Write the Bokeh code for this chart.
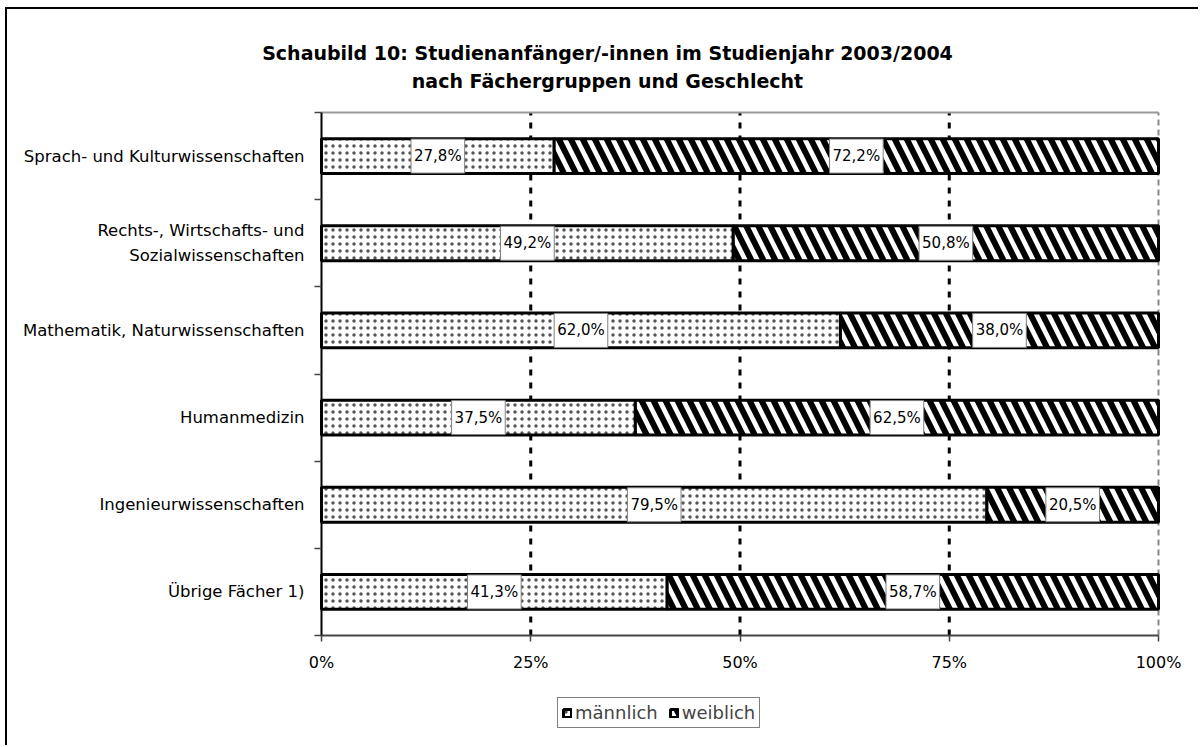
from bokeh.plotting import figure
from bokeh.models import (ColumnDataSource, Range1d, FixedTicker, LinearAxis,
                          Label, Legend, LegendItem)
from bokeh.core.properties import value
from bokeh.embed import file_html
from bokeh.resources import INLINE

# ---------------- data ----------------
categories = [
    "Sprach- und Kulturwissenschaften",
    "Rechts-, Wirtschafts- und\nSozialwissenschaften",
    "Mathematik, Naturwissenschaften",
    "Humanmedizin",
    "Ingenieurwissenschaften",
    "Übrige Fächer 1)",
]
maennlich = [27.8, 49.2, 62.0, 37.5, 79.5, 41.3]
weiblich = [72.2, 50.8, 38.0, 62.5, 20.5, 58.7]
x_ticks = [0, 25, 50, 75, 100]
x_tick_labels = ["0%", "25%", "50%", "75%", "100%"]
grid_ticks = [25, 50, 75]
title_lines = ["Schaubild 10: Studienanfänger/-innen im Studienjahr 2003/2004",
               "nach Fächergruppen und Geschlecht"]
series_names = ["männlich", "weiblich"]

FONT = "DejaVu Sans"
n = len(categories)
ypos = [n - 0.5 - i for i in range(n)]
m_end = maennlich
w_end = [a + b for a, b in zip(maennlich, weiblich)]
x_max = max(w_end)


def fmt(v):
    return f"{v:.1f}%".replace(".", ",")


src = ColumnDataSource(dict(
    y=ypos, m=maennlich, w=weiblich, m_end=m_end, w_end=w_end,
    m_mid=[v / 2 for v in maennlich],
    w_mid=[a + b / 2 for a, b in zip(maennlich, weiblich)],
    m_lab=[fmt(v) for v in maennlich],
    w_lab=[fmt(v) for v in weiblich],
))

# ---------------- layout (pixels) ----------------
W, H = 1193, 738           # canvas size
PL, PW = 314, 837          # plot area left / width  (canvas px)
PT, PH = 103, 523          # plot area top / height  (canvas px)
sx = PW / x_max
sy = PH / n
x_range = Range1d(-PL / sx, (W - PL) / sx)
y_range = Range1d(-(H - PT - PH) / sy, (PT + PH) / sy)

p = figure(width=W, height=H, output_backend="svg", toolbar_location=None, title=None,
           x_range=x_range, y_range=y_range, x_axis_type=None, y_axis_type=None,
           min_border=0, min_border_left=0, min_border_right=0,
           min_border_top=0, min_border_bottom=0)
p.styles = {"margin-left": "5px", "margin-top": "7px",
            "border-left": "2px solid black", "border-top": "2px solid black"}
p.outline_line_color = None
p.background_fill_color = "white"
p.border_fill_color = "white"
p.xgrid.visible = False
p.ygrid.visible = False

# gridlines (dotted at 25/50/75), plot-area top line and right dashed line
p.segment(x0=grid_ticks, x1=grid_ticks, y0=0, y1=n, line_color="black",
          line_width=3, line_dash="6 7")
p.segment(x0=[0], x1=[x_max], y0=n, y1=n, line_color="#999999", line_width=2)
p.segment(x0=[x_max], x1=[x_max], y0=0, y1=n, line_color="#888888",
          line_width=2, line_dash="6 4")

# axes
xaxis = LinearAxis(ticker=FixedTicker(ticks=x_ticks), fixed_location=0, bounds=(0, x_max),
                   major_label_overrides={t: l for t, l in zip(x_ticks, x_tick_labels)})
xaxis.axis_line_color = "#444444"
xaxis.axis_line_width = 2
xaxis.major_tick_in = 0
xaxis.major_tick_out = 6
xaxis.major_tick_line_color = "#444444"
xaxis.major_tick_line_width = 1.5
xaxis.minor_tick_line_color = None
xaxis.major_label_standoff = 11
xaxis.major_label_text_font = FONT
xaxis.major_label_text_font_size = "16px"
xaxis.major_label_text_color = "black"
p.add_layout(xaxis, "below")

yaxis = LinearAxis(ticker=FixedTicker(ticks=ypos, minor_ticks=list(range(n + 1))),
                   fixed_location=0, bounds=(0, n),
                   major_label_overrides={y: c for y, c in zip(ypos, categories)})
yaxis.axis_line_color = "black"
yaxis.axis_line_width = 2
yaxis.major_tick_line_color = None
yaxis.minor_tick_in = 0
yaxis.minor_tick_out = 7
yaxis.minor_tick_line_color = "#444444"
yaxis.minor_tick_line_width = 1.5
yaxis.major_label_standoff = 10
yaxis.major_label_text_font = FONT
yaxis.major_label_text_font_size = "16.5px"
yaxis.major_label_text_color = "black"
yaxis.major_label_text_line_height = 1.33
p.add_layout(yaxis, "left")

# bars
r_m = p.hbar(y="y", left=0, right="m_end", height=0.40, source=src,
             fill_color="white", hatch_pattern="dot", hatch_color="#555555",
             hatch_scale=7, hatch_weight=1.3, line_color="black", line_width=3)
r_w = p.hbar(y="y", left="m_end", right="w_end", height=0.40, source=src,
             fill_color="white", hatch_pattern="left_diagonal_line", hatch_color="black",
             hatch_scale=24, hatch_weight=6, line_color="black", line_width=3)

for col_x, col_t in (("m_mid", "m_lab"), ("w_mid", "w_lab")):
    p.text(x=col_x, y="y", text=col_t, source=src, text_align="center",
           text_baseline="middle", text_font=value(FONT), text_font_size="15px",
           text_color="black", background_fill_color="white",
           border_line_color="#808080", border_line_width=1,
           padding=dict(left=3, right=3, top=8, bottom=8))

# title
for i, line in enumerate(title_lines):
    p.add_layout(Label(x=600, y=H - 43 - 28 * i, x_units="screen", y_units="screen",
                       text=line, text_align="center", text_baseline="middle",
                       text_font=FONT, text_font_size="19px", text_font_style="bold",
                       text_color="black"))

legend = Legend(items=[LegendItem(label=series_names[0], renderers=[r_m]),
                       LegendItem(label=series_names[1], renderers=[r_w])],
                orientation="horizontal", location=(550, 19),
                border_line_color="black", border_line_width=1.5,
                label_text_font=FONT, label_text_font_size="18px",
                glyph_width=10, glyph_height=10, label_standoff=3, spacing=11,
                padding=4, margin=0, background_fill_color="white")
p.add_layout(legend, "center")

open("out.html", "w").write(file_html(p, INLINE))
